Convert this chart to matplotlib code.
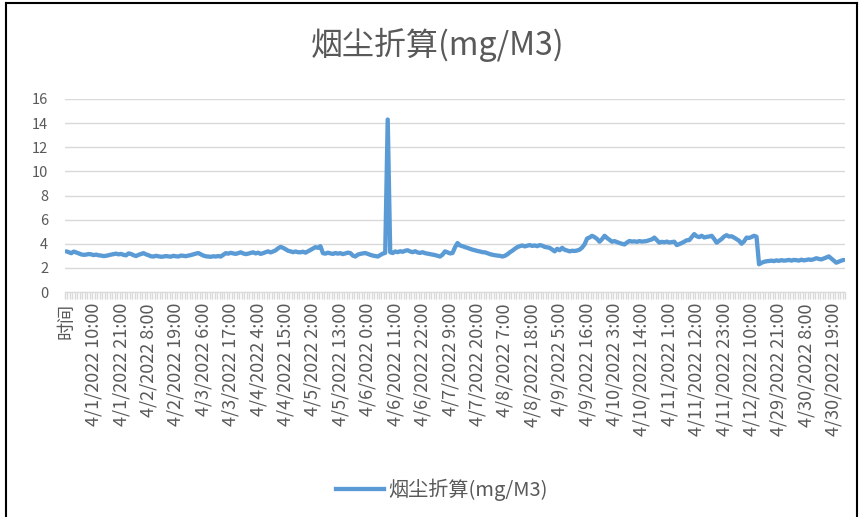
import pandas as pd
import numpy as np
import matplotlib
matplotlib.use("Agg")
import matplotlib.pyplot as plt
from matplotlib.lines import Line2D

plt.rcParams['font.family'] = ['Noto Sans CJK SC', 'DejaVu Sans']

SERIES_NAME = "烟尘折算(mg/M3)"
HEADER = "时间"

# hourly readings, one row per day (4/12 ends at 12:00, 4/29 starts at 13:00)
first_value = [3.37]
day_0401 = [3.30, 3.22, 3.35, 3.28, 3.20, 3.12, 3.08, 3.10, 3.15, 3.12, 3.06, 3.10,
            3.04, 3.02, 2.98, 3.00, 3.05, 3.10, 3.14, 3.18, 3.12, 3.16, 3.08, 3.04]
day_0402 = [3.20, 3.15, 3.05, 2.98, 3.08, 3.15, 3.22, 3.12, 3.05, 2.96, 2.94, 3.00,
            2.96, 2.92, 2.94, 2.98, 2.95, 2.93, 3.00, 2.96, 2.94, 3.02, 3.00, 2.97]
day_0403 = [3.02, 3.06, 3.12, 3.18, 3.23, 3.12, 3.02, 2.96, 2.94, 2.92, 2.96, 2.94,
            2.98, 2.94, 3.08, 3.22, 3.18, 3.25, 3.20, 3.16, 3.22, 3.29, 3.20, 3.14]
day_0404 = [3.18, 3.24, 3.29, 3.20, 3.26, 3.16, 3.22, 3.30, 3.37, 3.28, 3.36, 3.45,
            3.62, 3.74, 3.66, 3.55, 3.42, 3.37, 3.30, 3.36, 3.30, 3.29, 3.34, 3.26]
day_0405 = [3.37, 3.48, 3.60, 3.72, 3.66, 3.80, 3.22, 3.18, 3.26, 3.20, 3.16, 3.23,
            3.18, 3.22, 3.14, 3.20, 3.26, 3.23, 3.02, 2.94, 3.10, 3.16, 3.20, 3.23]
day_0406 = [3.16, 3.08, 3.02, 2.98, 2.94, 3.06, 3.18, 3.24, 14.30, 3.30, 3.23, 3.36,
            3.30, 3.38, 3.33, 3.42, 3.46, 3.36, 3.30, 3.38, 3.28, 3.24, 3.30, 3.22]
day_0407 = [3.18, 3.14, 3.10, 3.06, 3.00, 2.94, 3.10, 3.37, 3.28, 3.20, 3.23, 3.70,
            4.06, 3.86, 3.80, 3.72, 3.66, 3.58, 3.51, 3.46, 3.40, 3.36, 3.30, 3.29]
day_0408 = [3.22, 3.14, 3.09, 3.05, 3.02, 3.00, 2.94, 3.00, 3.12, 3.29, 3.42, 3.58,
            3.72, 3.80, 3.86, 3.78, 3.84, 3.89, 3.82, 3.86, 3.80, 3.89, 3.84, 3.74]
day_0409 = [3.70, 3.66, 3.52, 3.37, 3.58, 3.46, 3.66, 3.50, 3.44, 3.37, 3.42, 3.40,
            3.44, 3.51, 3.68, 3.95, 4.43, 4.52, 4.66, 4.55, 4.40, 4.17, 4.38, 4.66]
day_0410 = [4.48, 4.32, 4.17, 4.22, 4.14, 4.06, 4.00, 3.94, 4.10, 4.23, 4.18, 4.20,
            4.16, 4.22, 4.18, 4.20, 4.23, 4.30, 4.36, 4.51, 4.30, 4.09, 4.16, 4.12]
day_0411 = [4.18, 4.10, 4.14, 4.17, 3.89, 3.98, 4.06, 4.18, 4.29, 4.30, 4.55, 4.80,
            4.62, 4.55, 4.66, 4.52, 4.57, 4.60, 4.66, 4.40, 4.09, 4.25, 4.40, 4.60]
day_0412 = [4.71, 4.60, 4.62, 4.51, 4.38, 4.25, 4.00, 4.20, 4.51, 4.48, 4.56, 4.66,
            4.58]
day_0429 = [2.30, 2.42, 2.50, 2.55, 2.57, 2.60, 2.56, 2.62, 2.58, 2.64, 2.60]
day_0430 = [2.62, 2.66, 2.60, 2.66, 2.64, 2.60, 2.68, 2.62, 2.66, 2.70, 2.66, 2.72,
            2.80, 2.74, 2.70, 2.78, 2.86, 2.95, 2.78, 2.62, 2.43, 2.52, 2.60, 2.66]

values = (first_value + day_0401 + day_0402 + day_0403 + day_0404 + day_0405
          + day_0406 + day_0407 + day_0408 + day_0409 + day_0410 + day_0411
          + day_0412 + day_0429 + day_0430)

times = list(pd.date_range('2022-04-01 00:00', '2022-04-12 12:00', freq='h')) + \
        list(pd.date_range('2022-04-29 13:00', '2022-04-30 23:00', freq='h'))
categories = [HEADER] + [f"{t.month}/{t.day}/{t.year} {t.hour}:00" for t in times]
label_step = 11

TEXT = '#595959'
GRID = '#D9D9D9'
BLUE = '#5B9BD5'

fig = plt.figure(figsize=(8.61, 5.17), dpi=100)
ax = fig.add_axes([65 / 861, 1 - 292 / 517, 780 / 861, 193 / 517])

x = np.arange(len(categories))
ax.plot(x, values, color=BLUE, linewidth=3.1, solid_joinstyle='round',
        solid_capstyle='round', label=SERIES_NAME)

ax.set_xlim(-0.5, len(categories) - 0.5)
ax.set_ylim(0, 16)
ax.set_yticks(np.arange(0, 17, 2))
ax.tick_params(axis='y', length=0, labelsize=10.5, labelcolor=TEXT, pad=12)
ax.grid(True, axis='y', color=GRID, linewidth=1.0)
ax.set_axisbelow(True)

# category labels every 11 hours, tick marks between every category
ax.set_xticks(x[::label_step])
ax.set_xticklabels(categories[::label_step], rotation=90, fontsize=13, color=TEXT)
ax.tick_params(axis='x', which='major', length=0, pad=8)
ax.set_xticks(np.arange(-0.5, len(categories), 1), minor=True)
ax.tick_params(axis='x', which='minor', length=5, width=1.0, color=GRID)

for side in ['top', 'right', 'left']:
    ax.spines[side].set_visible(False)
ax.spines['bottom'].set_color(GRID)

fig.suptitle(SERIES_NAME, x=438 / 861, y=1 - 45 / 517, va='center',
             fontsize=23, color=TEXT)

fig.legend(handles=[Line2D([], [], color=BLUE, linewidth=3.1)], labels=[SERIES_NAME],
           loc='center', bbox_to_anchor=(442 / 861, 1 - 490 / 517), frameon=False,
           fontsize=14.5, labelcolor=TEXT, handlelength=2.4, handletextpad=0.2)

# outer frame
fig.add_artist(Line2D([6 / 861, 6 / 861], [0, 1 - 3 / 517], color='black', linewidth=1.5))
fig.add_artist(Line2D([6 / 861, 857 / 861], [1 - 3 / 517, 1 - 3 / 517], color='black', linewidth=1.5))
fig.add_artist(Line2D([857 / 861, 857 / 861], [0, 1 - 3 / 517], color='black', linewidth=1.5))

fig.savefig('out.png', dpi=100)
